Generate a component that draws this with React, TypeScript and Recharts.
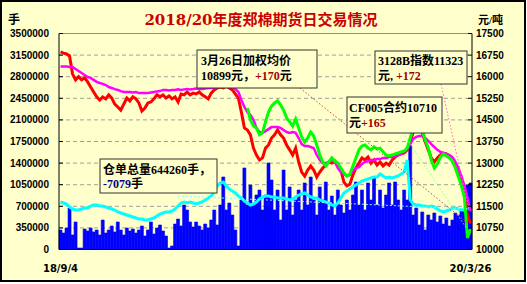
import React from 'react';
import { ComposedChart, Bar, Line, XAxis, YAxis, CartesianGrid, ReferenceLine } from 'recharts';

// Daily volume (手), left axis
const volume = [
  316000, 267000, 348000, 672000, 235000, 446000, 24000, 24000, 332000, 300000,
  348000, 284000, 316000, 235000, 478000, 267000, 316000, 381000, 284000, 446000,
  316000, 235000, 348000, 300000, 332000, 267000, 316000, 381000, 219000, 316000,
  446000, 251000, 348000, 397000, 300000, 219000, 24000, 57000, 413000, 494000,
  381000, 721000, 640000, 446000, 365000, 446000, 381000, 316000, 413000, 348000,
  478000, 640000, 397000, 721000, 1175000, 640000, 753000, 559000, 316000, 57000,
  802000, 1321000, 721000, 1045000, 721000, 883000, 964000, 640000, 883000, 1402000,
  1126000, 640000, 964000, 478000, 1288000, 640000, 1013000, 559000, 802000, 964000,
  640000, 1078000, 721000, 1175000, 802000, 559000, 1013000, 802000, 1094000, 640000,
  867000, 559000, 964000, 721000, 591000, 802000, 640000, 883000, 1094000, 721000,
  964000, 640000, 1078000, 802000, 1175000, 721000, 964000, 672000, 883000, 1078000,
  721000, 1094000, 802000, 640000, 964000, 802000, 1693000, 559000, 672000, 397000,
  608000, 316000, 559000, 478000, 591000, 446000, 543000, 413000, 510000, 381000,
  478000, 591000, 559000, 640000, 608000, 1045000, 1078000,
];

// Warehouse receipts total (仓单总量, 手), left axis
const receipts = [
  770000, 753000, 737000, 689000, 656000, 640000, 640000, 656000, 672000, 672000,
  705000, 721000, 721000, 705000, 705000, 689000, 672000, 656000, 640000, 608000,
  591000, 575000, 559000, 543000, 527000, 510000, 494000, 494000, 478000, 478000,
  494000, 510000, 543000, 575000, 591000, 608000, 608000, 624000, 656000, 705000,
  753000, 770000, 753000, 770000, 753000, 737000, 753000, 770000, 802000, 834000,
  867000, 932000, 1029000, 1078000, 1094000, 1029000, 980000, 948000, 916000, 867000,
  834000, 786000, 753000, 721000, 737000, 770000, 818000, 851000, 867000, 867000,
  851000, 851000, 834000, 834000, 834000, 818000, 802000, 818000, 851000, 883000,
  899000, 916000, 883000, 851000, 834000, 834000, 802000, 786000, 770000, 753000,
  721000, 705000, 753000, 834000, 916000, 948000, 980000, 1013000, 1045000, 1078000,
  1110000, 1126000, 1142000, 1159000, 1175000, 1175000, 1223000, 1191000, 1159000, 1175000,
  1159000, 1175000, 1191000, 1223000, 1256000, 1450000, 802000, 737000, 721000, 721000,
  705000, 705000, 689000, 705000, 689000, 656000, 624000, 608000, 624000, 640000,
  672000, 672000, 656000, 640000, 656000, 672000, 644260,
];

// Weighted average price (加权均价, 元/吨), right axis
const avgPrice = [
  16860, 16820, 16790, 16720, 16090, 15890, 16000, 15890, 15960, 15820,
  15640, 15470, 15300, 15190, 15300, 15230, 15370, 15260, 15050, 14950,
  14840, 15050, 15260, 15160, 15300, 15230, 15090, 14810, 14910, 15090,
  15120, 15230, 15370, 15300, 15370, 15260, 15330, 15230, 15300, 15120,
  15400, 15370, 15470, 15370, 15430, 15400, 15470, 15370, 15300, 15230,
  15430, 15540, 15610, 15640, 15610, 15680, 15610, 15540, 15400, 15260,
  14770, 14220, 14150, 13980, 13520, 13280, 13110, 13180, 13520, 13630,
  13870, 13980, 14150, 13980, 13870, 13630, 13460, 13280, 13520, 13040,
  12690, 12550, 12760, 12900, 12760, 12520, 12690, 12830, 12930, 13040,
  13000, 13070, 12930, 12760, 12340, 12210, 12270, 12590, 12830, 13000,
  13180, 13110, 13210, 13000, 13110, 12930, 13040, 12900, 13000, 12930,
  13110, 13210, 13280, 13320, 13350, 13460, 13730, 14080, 14220, 14250,
  14050, 13730, 13460, 13180, 13040, 13180, 13280, 13350, 13320, 13250,
  13110, 12860, 12590, 12270, 11860, 11200, 10899,
];

// 3128B index (元/吨), right axis
const index3128B = [
  16350, 16350, 16350, 16340, 16340, 16270, 16200, 16130, 16060, 15990,
  15960, 15890, 15820, 15780, 15750, 15710, 15640, 15610, 15570, 15540,
  15500, 15470, 15470, 15470, 15450, 15470, 15430, 15430, 15430, 15430,
  15450, 15470, 15490, 15500, 15540, 15540, 15520, 15540, 15540, 15560,
  15540, 15560, 15570, 15560, 15570, 15590, 15570, 15570, 15590, 15610,
  15610, 15620, 15640, 15680, 15710, 15710, 15680, 15640, 15570, 15470,
  15190, 14950, 14770, 14670, 14500, 14220, 14080, 14050, 14110, 14180,
  14250, 14250, 14250, 14220, 14150, 14080, 14050, 14080, 14050, 13870,
  13660, 13590, 13590, 13560, 13520, 13280, 13110, 13000, 13000, 13040,
  13110, 13040, 12830, 12690, 12620, 12550, 12590, 12730, 12830, 12860,
  12970, 13040, 13070, 13110, 13110, 13140, 13140, 13180, 13180, 13210,
  13210, 13250, 13280, 13320, 13390, 13490, 13660, 13840, 13910, 13940,
  13940, 13870, 13770, 13660, 13560, 13460, 13390, 13350, 13320, 13280,
  13210, 13040, 12830, 12550, 12210, 11790, 11323,
];

// CF005 contract (元/吨), right axis
const cf005 = [
  null, null, null, null, null, null, null, null, null, null,
  null, null, null, null, null, null, null, null, null, null,
  null, null, null, null, null, null, null, null, null, null,
  null, null, null, null, null, null, null, null, null, null,
  null, null, null, null, null, null, null, null, null, null,
  null, null, null, null, null, null, null, null, null, null,
  null, null, 14910, 14500, 14290, 14220, 13980, 14050, 14430, 14770,
  14980, 15090, 15160, 15020, 14840, 14570, 14430, 14290, 14530, 14220,
  13910, 13730, 13870, 14080, 13940, 13630, 13280, 13040, 12900, 13040,
  13180, 13070, 13000, 12830, 12660, 12550, 12620, 12900, 13180, 13460,
  13590, 13630, 13520, 13460, 13560, 13490, 13520, 13390, 13280, 13250,
  13280, 13320, 13350, 13390, 13420, 13520, 13870, 14220, 14360, 14430,
  14150, 13800, 13520, 13110, 12830, 12970, 13210, 13320, 13250, 13180,
  13070, 12830, 12520, 12210, 11790, 10400, 10710,
];

const leftTicks = [0, 350000, 700000, 1050000, 1400000, 1750000, 2100000, 2450000, 2800000, 3150000, 3500000];
const rightTicks = [10000, 10750, 11500, 12250, 13000, 13750, 14500, 15250, 16000, 16750, 17500];
const xTickLabels = ['18/9/4', '20/3/26'];

const tickFont = '"Liberation Sans", Arial, sans-serif';
const xTickFont = '"DejaVu Sans", sans-serif';
const annFont = '"Liberation Serif", "Noto Sans CJK SC", serif';
const titleFont = '"DejaVu Serif", "Noto Sans CJK SC", serif';

export default function App() {
  const last = volume.length - 1;
  const data = volume.map((v, i) => ({
    i,
    vol: v,
    rec: receipts[i],
    avg: avgPrice[i],
    idx: index3128B[i],
    cf: cf005[i],
  }));
  const tickStyle = { fill: '#000', fontSize: 10, fontWeight: 'bold', fontFamily: tickFont } as any;
  const xTickStyle = { fill: '#000', fontSize: 10, fontWeight: 'bold', fontFamily: xTickFont } as any;
  return (
    <div style={{ position: 'absolute', left: 0, top: 0, width: 527, height: 284, background: '#ffffff' }}>
      <div
        style={{
          position: 'absolute', left: 0, top: 0, width: 526, height: 282,
          boxSizing: 'border-box', border: '2px solid #000', background: '#ffffcc',
        }}
      />
      <div style={{ position: 'absolute', left: 0, top: 0 }}>
        <ComposedChart
          width={527}
          height={284}
          data={data}
          margin={{ top: 33.5, right: 0, bottom: 4.5, left: 0 }}
          barCategoryGap={0}
          barGap={0}
        >
          <CartesianGrid yAxisId="vol" vertical={false} stroke="#a0a0a0" strokeDasharray="4 3" />
          <XAxis
            dataKey="i"
            type="category"
            ticks={[0, last]}
            interval={0}
            tickFormatter={(v: any) => (v === 0 ? xTickLabels[0] : xTickLabels[1])}
            tickLine={false}
            tickSize={0}
            tickMargin={15}
            axisLine={{ stroke: '#000' }}
            tick={xTickStyle}
            height={30}
          />
          <YAxis
            yAxisId="vol"
            orientation="left"
            width={59}
            domain={[0, 3500000]}
            ticks={leftTicks}
            interval={0}
            tickSize={-4}
            tickMargin={14}
            axisLine={{ stroke: '#000' }}
            tickLine={{ stroke: '#000' }}
            tick={tickStyle}
            allowDataOverflow
          />
          <YAxis
            yAxisId="price"
            orientation="right"
            width={55}
            domain={[10000, 17500]}
            ticks={rightTicks}
            interval={0}
            tickSize={-4}
            tickMargin={8}
            axisLine={{ stroke: '#000' }}
            tickLine={{ stroke: '#000' }}
            tick={tickStyle}
            allowDataOverflow
          />
          <ReferenceLine yAxisId="vol" y={3500000} stroke="#909090" />
          <Bar yAxisId="vol" dataKey="vol" fill="#0000ff" stroke="#0000ff" strokeWidth={0.6} isAnimationActive={false} />
          <Line yAxisId="vol" type="linear" dataKey="rec" stroke="#00ffff" strokeWidth={3} dot={false} isAnimationActive={false} />
          <Line yAxisId="price" type="linear" dataKey="avg" stroke="#ff0000" strokeWidth={3} dot={false} isAnimationActive={false} />
          <Line yAxisId="price" type="linear" dataKey="idx" stroke="#ff00ff" strokeWidth={2.5} dot={false} isAnimationActive={false} />
          <Line yAxisId="price" type="linear" dataKey="cf" stroke="#00ff00" strokeWidth={3} dot={false} isAnimationActive={false} />
        </ComposedChart>
      </div>
      <svg width={527} height={284} style={{ position: 'absolute', left: 0, top: 0, pointerEvents: 'none' }}>
        <text x={8} y={24} fontSize={12} fontWeight="bold" fontFamily={annFont} fill="#000">手</text>
        <text x={478} y={24} fontSize={11} fontWeight="bold" fontFamily={annFont} fill="#000">元/吨</text>
        <text x={261} y={25} textAnchor="middle" fontSize={15} fontWeight="bold" fontFamily={titleFont} fill="#cc0000">
          2018/20年度郑棉期货日交易情况
        </text>

        {/* leader lines */}
        <line x1={300} y1={88} x2={469} y2={224} stroke="#c05040" strokeWidth={1} strokeDasharray="1.5 2" />
        <line x1={441} y1={84} x2={469} y2={210} stroke="#ff66cc" strokeWidth={1} strokeDasharray="1.5 2" />
        <line x1={403} y1={133} x2={467} y2={229} stroke="#90ff90" strokeWidth={1} strokeDasharray="1.5 2" />
        <line x1={178} y1={196} x2={469} y2={209} stroke="#80ffff" strokeWidth={1} strokeDasharray="2 2" />

        {/* box 1 */}
        <rect x={197} y={50} width={120} height={38} fill="#ffffcc" stroke="#333" strokeWidth={1} />
        <text x={201} y={65} fontSize={12} fontWeight="bold" fontFamily={annFont} fill="#000">3月26日加权均价</text>
        <text x={201} y={80} fontSize={12} fontWeight="bold" fontFamily={annFont} fill="#000">
          10899元，<tspan fill="#a00000">+170</tspan>元
        </text>

        {/* box 2 */}
        <rect x={100} y={159} width={117} height={34} fill="#ffffcc" stroke="#333" strokeWidth={1} />
        <text x={103} y={174} fontSize={12} fontWeight="bold" fontFamily={annFont} fill="#000">仓单总量644260手，</text>
        <text x={103} y={188} fontSize={12} fontWeight="bold" fontFamily={annFont} fill="#000">
          <tspan fill="#000080">-7079</tspan>手
        </text>

        {/* box 3 */}
        <rect x={375} y={51} width={92} height={33} fill="#ffffcc" stroke="#333" strokeWidth={1} />
        <text x={378} y={65} fontSize={12} fontWeight="bold" fontFamily={annFont} fill="#000">3128B指数11323</text>
        <text x={378} y={80} fontSize={12} fontWeight="bold" fontFamily={annFont} fill="#000">
          元, <tspan fill="#a00000">+172</tspan>
        </text>

        {/* box 4 */}
        <rect x={347} y={97} width={95} height={36} fill="#ffffcc" stroke="#333" strokeWidth={1} />
        <text x={349} y={112} fontSize={12} fontWeight="bold" fontFamily={annFont} fill="#000">CF005合约10710</text>
        <text x={349} y={127} fontSize={12} fontWeight="bold" fontFamily={annFont} fill="#000">
          元<tspan fill="#a00000">+165</tspan>
        </text>
      </svg>
    </div>
  );
}
